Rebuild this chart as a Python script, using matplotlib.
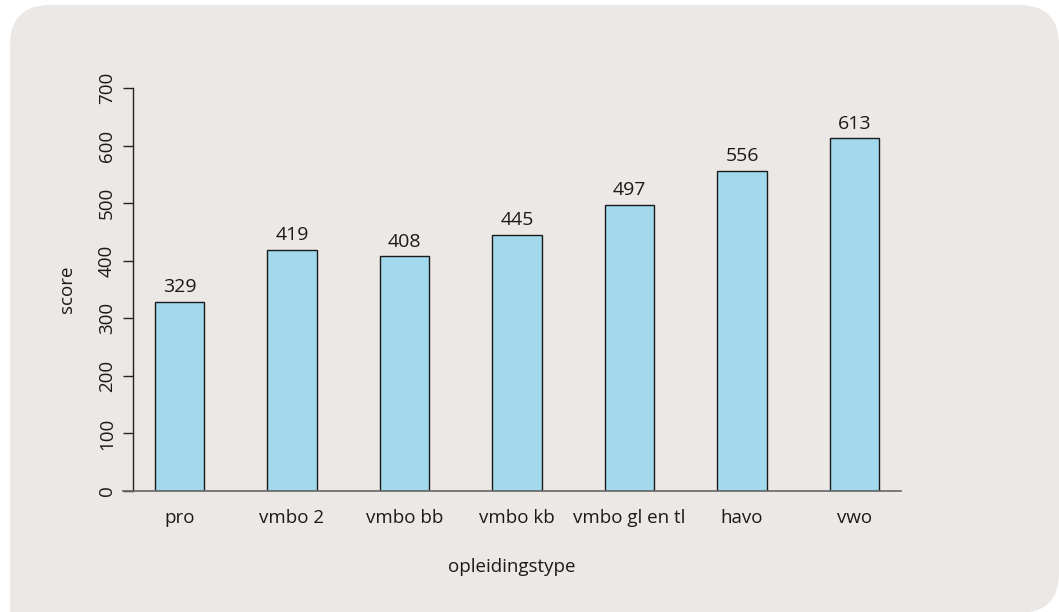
import matplotlib
matplotlib.use("Agg")
import matplotlib.pyplot as plt
from matplotlib.patches import FancyBboxPatch, Rectangle

# data
categories = ["pro", "vmbo 2", "vmbo bb", "vmbo kb", "vmbo gl en tl", "havo", "vwo"]
scores = [329, 419, 408, 445, 497, 556, 613]
y_ticks = [0, 100, 200, 300, 400, 500, 600, 700]

panel_color = "#ebe8e5"
bar_color = "#a2d9ec"
text_color = "#1a1a1a"

plt.rcParams["font.family"] = ["Open Sans", "DejaVu Sans"]
plt.rcParams["font.size"] = 13.5

fig = plt.figure(figsize=(10.59, 6.12), dpi=100)
fig.patch.set_facecolor("white")

# rounded background panel (bottom-left corner square), in inches
panel = FancyBboxPatch((0.10, -0.01), 10.59 - 0.10, 6.07 + 0.01,
                       boxstyle="round,pad=0,rounding_size=0.4",
                       transform=fig.dpi_scale_trans, facecolor=panel_color,
                       edgecolor="none", zorder=-2)
fig.patches.append(panel)
fig.patches.append(Rectangle((0.10, -0.01), 1.0, 1.0, transform=fig.dpi_scale_trans,
                             facecolor=panel_color, edgecolor="none", zorder=-2))

ax = fig.add_axes([123 / 1059, 1 - 491 / 612, (901 - 123) / 1059, (491 - 88) / 612])
ax.set_facecolor("none")
ax.set_zorder(1)

x = list(range(len(categories)))
bars = ax.bar(x, scores, width=0.436, color=bar_color, edgecolor="#1a1a1a", linewidth=1.0, zorder=2)

for xi, s in zip(x, scores):
    ax.annotate(str(s), (xi, s), xytext=(0, 4), textcoords="offset points",
                ha="center", va="bottom", color=text_color, fontsize=14)

ax.set_xlim(-0.502, 6.413)
ax.set_ylim(0, 700)

ax.spines["top"].set_visible(False)
ax.spines["right"].set_visible(False)
ax.spines["left"].set_position(("data", -0.413))
ax.spines["left"].set_bounds(0, 700)
ax.spines["left"].set_color("#222222")
ax.spines["left"].set_linewidth(1.0)
ax.spines["bottom"].set_color("#666666")
ax.spines["bottom"].set_linewidth(1.2)

ax.set_yticks(y_ticks)
ax.set_yticklabels([str(v) for v in y_ticks], rotation=90, va="center")
ax.tick_params(axis="y", length=7.2, width=1.0, color="#222222", pad=5, labelcolor=text_color)

ax.set_xticks(x)
ax.set_xticklabels(categories)
ax.tick_params(axis="x", length=0, pad=13, labelcolor=text_color)

ax.set_xlabel("opleidingstype", color=text_color, labelpad=22)
ax.set_ylabel("score", color=text_color, labelpad=16)

fig.savefig("out.png", dpi=100, facecolor=fig.get_facecolor())
